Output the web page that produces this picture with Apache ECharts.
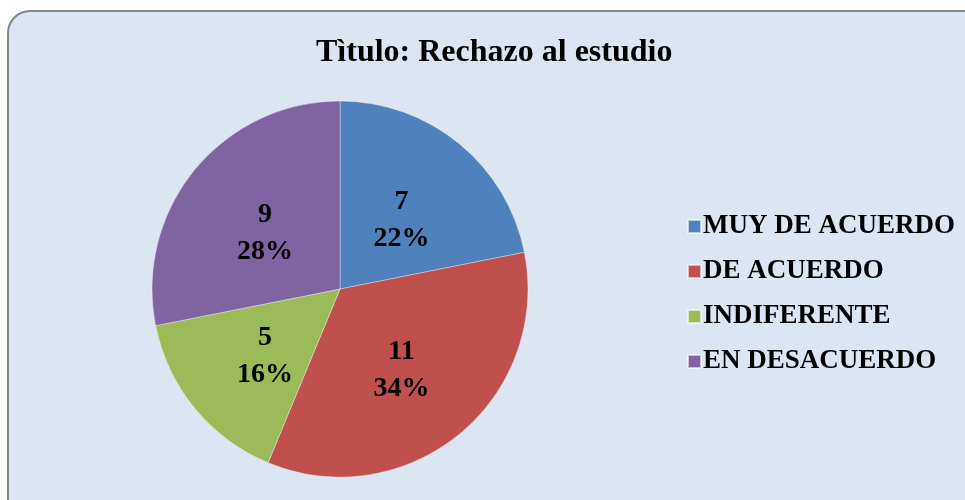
<!DOCTYPE html>
<html>
<head>
<meta charset="utf-8">
<script src="https://cdn.jsdelivr.net/npm/echarts@6/dist/echarts.min.js"></script>
<style>
html, body { margin: 0; padding: 0; background: #ffffff; }
#myChart { width: 965px; height: 500px; }
</style>
</head>
<body>
<div id="myChart"></div>
<script>
// datos del grafico
const categories = ['MUY DE ACUERDO', 'DE ACUERDO', 'INDIFERENTE', 'EN DESACUERDO']
const values = [7, 11, 5, 9]
const colors = ['#4f81bd', '#c0504d', '#9bbb59', '#8064a2']

const myChart = echarts.init(document.getElementById('myChart'))
const serif = '"Liberation Serif", "Times New Roman", serif'

const option = {
	backgroundColor: '#ffffff',
	color: colors,
	animation: false,
	graphic: [{
		type: 'rect',
		z: -10,
		shape: { x: 8, y: 11, width: 990, height: 520, r: 22 },
		style: { fill: '#dce6f2', stroke: '#868686', lineWidth: 2 }
	}],
	title: {
		text: 'Tìtulo: Rechazo al estudio',
		left: 316,
		top: 37,
		padding: 0,
		textStyle: { fontFamily: serif, fontSize: 32, fontWeight: 'bold', color: '#000' }
	},
	legend: {
		orient: 'vertical',
		left: 682,
		top: 208,
		icon: 'rect',
		itemWidth: 13,
		itemHeight: 13,
		itemGap: 18,
		textStyle: { fontFamily: serif, fontSize: 27, fontWeight: 'bold', color: '#000', lineHeight: 26, padding: [0, 0, 0, -3] },
		data: categories
	},
	series: [{
		type: 'pie',
		center: [340, 289],
		radius: 188,
		startAngle: 90,
		clockwise: true,
		percentPrecision: 0,
		itemStyle: { borderColor: 'rgba(255,255,255,0.6)', borderWidth: 0.6 },
		label: {
			position: 'inside',
			formatter: '{c}\n{d}%',
			fontFamily: serif,
			fontSize: 28,
			fontWeight: 'bold',
			color: '#000',
			lineHeight: 37,
			offset: [0, 6]
		},
		emphasis: { disabled: true },
		data: categories.map((name, i) => ({ name: name, value: values[i] }))
	}]
}

myChart.setOption(option)
</script>
</body>
</html>
